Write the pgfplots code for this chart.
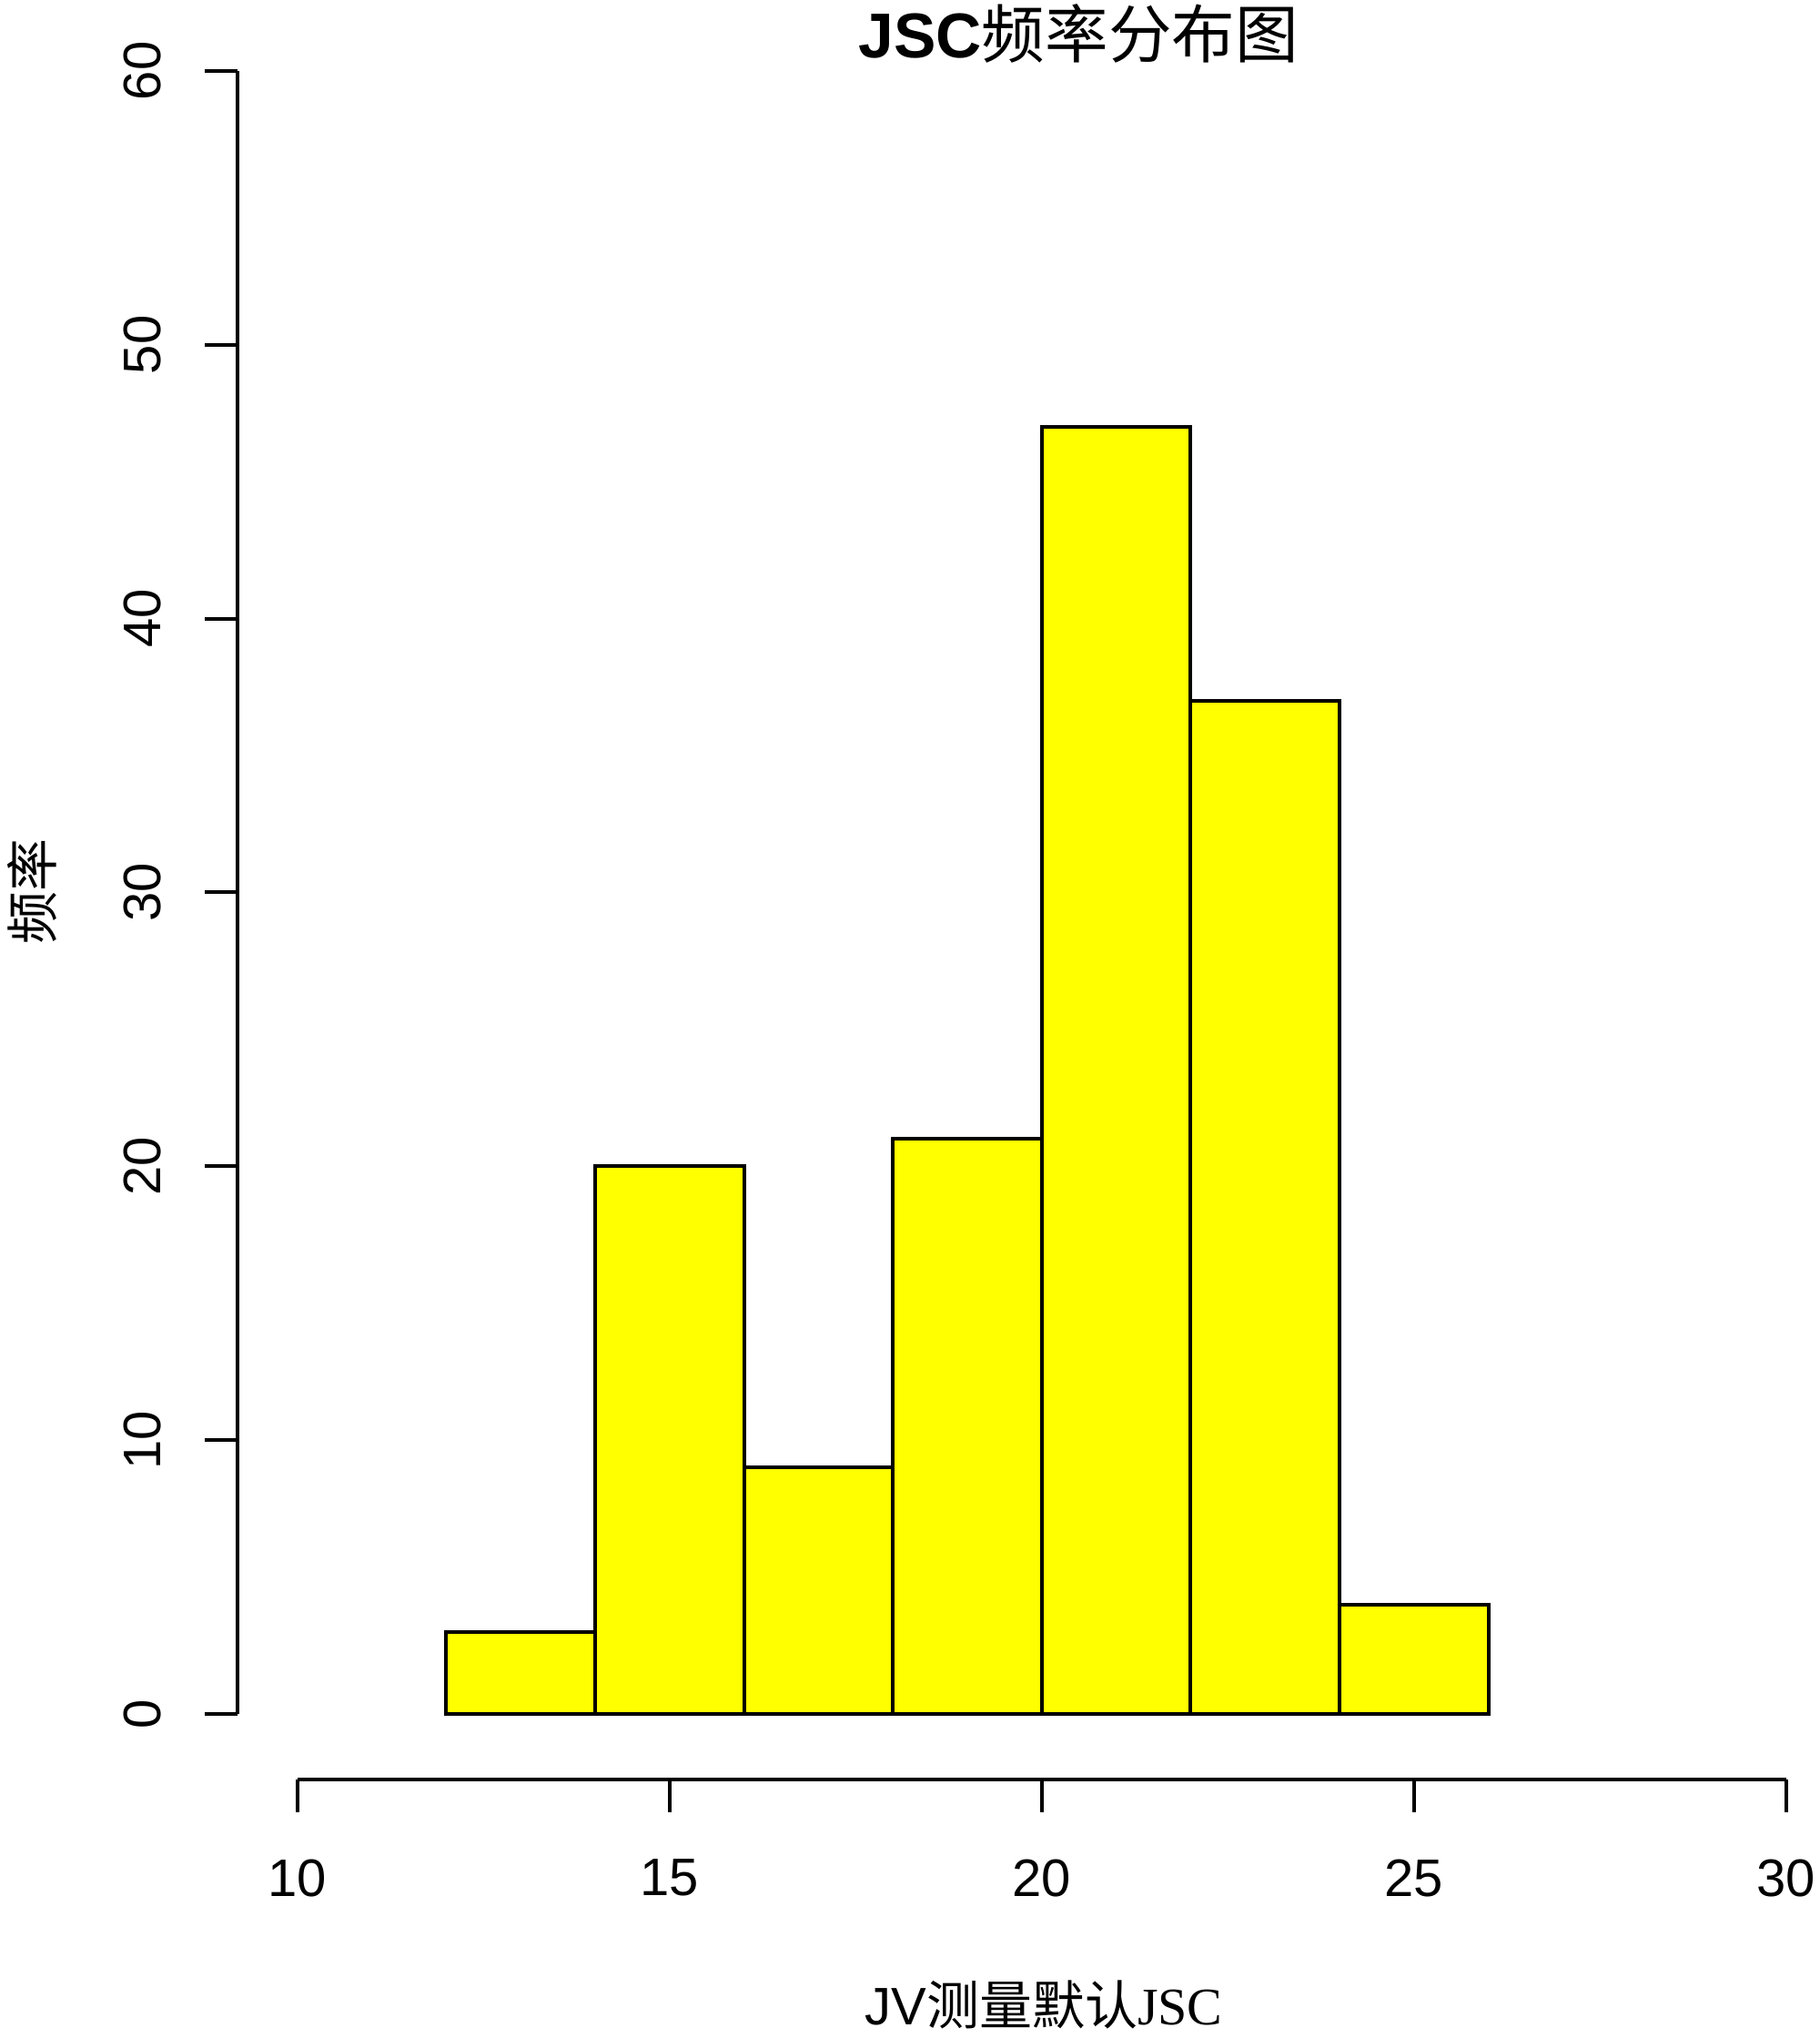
\documentclass[border=0pt]{standalone}
\usepackage{fontspec}
\setmainfont{Liberation Sans}
\newfontfamily\cjk{Noto Sans CJK SC}
\newfontfamily\serifl{Liberation Serif}
\usepackage{pgfplots}
\pgfplotsset{compat=1.18}
\definecolor{ryellow}{RGB}{255,255,0}
\begin{document}
\begin{tikzpicture}
\begin{axis}[
  at={(65.35pt,70.95pt)}, anchor=south west,
  scale only axis, width=441.7pt, height=487.35pt,
  xmin=9.2, xmax=30.8, ymin=-2.4, ymax=62.4,
  axis lines=none, clip=false,
]
\addplot[ybar interval, fill=ryellow, draw=black, line width=1pt]
  coordinates {(12,3) (14,20) (16,9) (18,21) (20,47) (22,37) (24,4) (26,4)};
% y axis
\draw[line width=1pt] (axis cs:9.2,0) -- (axis cs:9.2,60);
\pgfplotsinvokeforeach{0,10,20,30,40,50,60}{
  \draw[line width=1pt] (axis cs:9.2,#1) -- ([xshift=-9pt]axis cs:9.2,#1);
  \node[rotate=90, anchor=center, font=\fontsize{14.5}{17}\selectfont, inner sep=0pt]
    at ([xshift=-26.25pt]axis cs:9.2,#1) {#1};
}
% x axis
\draw[line width=1pt] (axis cs:10,-2.4) -- (axis cs:30,-2.4);
\pgfplotsinvokeforeach{10,15,20,25,30}{
  \draw[line width=1pt] (axis cs:#1,-2.4) -- ([yshift=-9pt]axis cs:#1,-2.4);
  \node[anchor=center, font=\fontsize{14.5}{17}\selectfont, inner sep=0pt]
    at ([yshift=-27pt]axis cs:#1,-2.4) {#1};
}
\end{axis}
\node[anchor=base, inner sep=0pt, font=\fontsize{17.4}{20}\selectfont]
  at (296.3pt,543.75pt) {\bfseries JSC{\cjk\mdseries 频率分布图}};
\node[anchor=base, inner sep=0pt, font=\fontsize{14.5}{17}\selectfont]
  at (286.75pt,3.5pt) {JV{\cjk 测量默认}{\serifl JSC}};
\node[rotate=90, anchor=center, inner sep=0pt, font=\fontsize{14.5}{17}\selectfont]
  at (8.75pt,314.75pt) {\cjk 频率};
\pgfresetboundingbox
\useasboundingbox (0,0) rectangle (500pt,559.75pt);
\end{tikzpicture}
\end{document}
